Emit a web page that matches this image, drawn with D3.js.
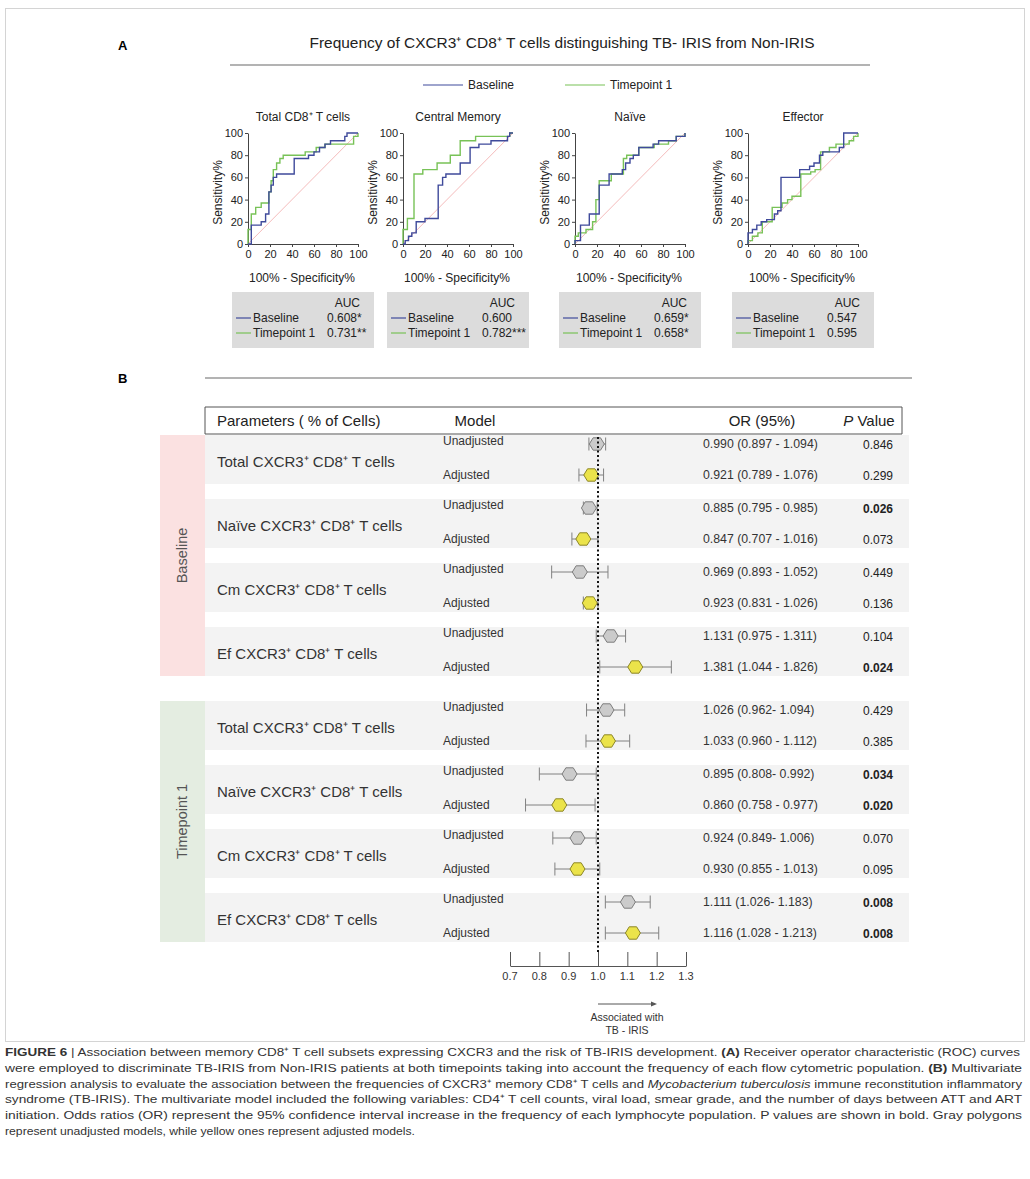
<!DOCTYPE html>
<html>
<head>
<meta charset="utf-8">
<script src="https://cdn.jsdelivr.net/npm/d3@7"></script>
<style>
    body { margin: 0; background: #fff; }
    svg { display: block; font-family: 'Liberation Sans', Arial, sans-serif; }
</style>
</head>
<body>
<div id="chart"></div>
<script>
// Data - panel A (ROC curves, [100% - specificity, sensitivity])
const rocPanels = ['Total CD8⁺ T cells', 'Central Memory', 'Naïve', 'Effector'];
const rocTicks = [0, 20, 40, 60, 80, 100];
const baselineRoc = [
    [[0,0],[3,0],[3,17],[12,17],[12,20],[16,20],[16,27],[19,27],[19,47],[21,47],[21,53],[23,53],[23,60],[26,60],[26,63],[42,63],[42,77],[55,77],[55,80],[60,80],[60,83],[65,83],[65,87],[70,87],[70,90],[75,90],[75,93],[88,93],[88,97],[90,97],[90,100],[100,100]],
    [[0,0],[2,0],[2,3],[5,3],[5,7],[8,7],[8,10],[12,10],[12,20],[20,20],[20,23],[32,23],[32,53],[36,53],[36,60],[39,60],[39,63],[52,63],[52,73],[61,73],[61,87],[69,87],[69,90],[80,90],[80,93],[95,93],[95,97],[97,97],[97,100],[100,100]],
    [[0,0],[0,3],[5,3],[5,17],[13,17],[13,27],[22,27],[22,53],[31,53],[31,63],[43,63],[43,67],[46,67],[46,73],[50,73],[50,77],[53,77],[53,80],[58,80],[58,87],[71,87],[71,90],[76,90],[76,93],[92,93],[92,97],[100,97],[100,100]],
    [[0,0],[0,10],[4,10],[4,13],[8,13],[8,17],[12,17],[12,20],[17,20],[17,22],[24,22],[24,27],[27,27],[27,30],[30,30],[30,60],[47,60],[47,67],[56,67],[56,70],[60,70],[60,73],[65,73],[65,80],[68,80],[68,83],[83,83],[83,87],[87,87],[87,100],[100,100]]
];
const timepointRoc = [
    [[0,0],[0,13],[3,13],[3,27],[7,27],[7,33],[12,33],[12,37],[19,37],[19,47],[21,47],[21,57],[23,57],[23,67],[26,67],[26,73],[29,73],[29,77],[32,77],[32,80],[52,80],[52,83],[62,83],[62,87],[70,87],[70,90],[96,90],[96,97],[100,97],[100,100]],
    [[0,0],[0,13],[4,13],[4,23],[10,23],[10,63],[18,63],[18,67],[31,67],[31,73],[43,73],[43,80],[52,80],[52,93],[66,93],[66,97],[97,97],[97,100],[100,100]],
    [[0,0],[0,7],[3,7],[3,10],[10,10],[10,13],[16,13],[16,20],[19,20],[19,40],[22,40],[22,57],[33,57],[33,63],[44,63],[44,77],[47,77],[47,80],[58,80],[58,87],[72,87],[72,90],[85,90],[85,93],[92,93],[92,97],[100,97],[100,100]],
    [[0,0],[0,3],[4,3],[4,7],[9,7],[9,10],[13,10],[13,20],[22,20],[22,33],[31,33],[31,37],[36,37],[36,40],[40,40],[40,43],[48,43],[48,63],[57,63],[57,65],[61,65],[61,67],[66,67],[66,83],[74,83],[74,87],[80,87],[80,90],[92,90],[92,93],[96,93],[96,97],[100,97],[100,100]]
];
const aucBaseline = ['0.608*', '0.600', '0.659*', '0.547'];
const aucTimepoint = ['0.731**', '0.782***', '0.658*', '0.595'];

// Data - panel B (forest plot), rows ordered timepoint > parameter > model
const timepoints = ['Baseline', 'Timepoint 1'];
const parameters = ['Total CXCR3⁺ CD8⁺ T cells', 'Naïve CXCR3⁺ CD8⁺ T cells', 'Cm CXCR3⁺ CD8⁺ T cells', 'Ef CXCR3⁺ CD8⁺ T cells'];
const models = ['Unadjusted', 'Adjusted'];
const orLabels = [
    '0.990 (0.897 - 1.094)', '0.921 (0.789 - 1.076)', '0.885 (0.795 - 0.985)', '0.847 (0.707 - 1.016)',
    '0.969 (0.893 - 1.052)', '0.923 (0.831 - 1.026)', '1.131 (0.975 - 1.311)', '1.381 (1.044 - 1.826)',
    '1.026 (0.962- 1.094)', '1.033 (0.960 - 1.112)', '0.895 (0.808- 0.992)', '0.860 (0.758 - 0.977)',
    '0.924 (0.849- 1.006)', '0.930 (0.855 - 1.013)', '1.111 (1.026- 1.183)', '1.116 (1.028 - 1.213)'
];
const pValues = ['0.846', '0.299', '0.026', '0.073', '0.449', '0.136', '0.104', '0.024',
                 '0.429', '0.385', '0.034', '0.020', '0.070', '0.095', '0.008', '0.008'];
// positions of the polygons and whiskers as drawn on the axis
const orPoint = [0.996, 0.977, 0.969, 0.950, 0.938, 0.972, 1.043, 1.127,
                 1.029, 1.034, 0.903, 0.868, 0.930, 0.930, 1.102, 1.119];
const orLow = [0.969, 0.935, 0.950, 0.911, 0.842, 0.950, 0.994, 1.006,
               0.961, 0.959, 0.800, 0.753, 0.846, 0.853, 1.025, 1.025];
const orHigh = [1.026, 1.019, 0.997, 1.000, 1.034, 1.000, 1.094, 1.250,
                1.091, 1.108, 0.994, 0.990, 0.994, 1.006, 1.178, 1.207];
const orTicks = [0.7, 0.8, 0.9, 1.0, 1.1, 1.2, 1.3];

const captionLines = [
    [['FIGURE 6', 'b'], [' | Association between memory CD8⁺ T cell subsets expressing CXCR3 and the risk of TB-IRIS development. '], ['(A)', 'b'], [' Receiver operator characteristic (ROC) curves']],
    [['were employed to discriminate TB-IRIS from Non-IRIS patients at both timepoints taking into account the frequency of each flow cytometric population. '], ['(B)', 'b'], [' Multivariate']],
    [['regression analysis to evaluate the association between the frequencies of CXCR3⁺ memory CD8⁺ T cells and '], ['Mycobacterium tuberculosis', 'i'], [' immune reconstitution inflammatory']],
    [['syndrome (TB-IRIS). The multivariate model included the following variables: CD4⁺ T cell counts, viral load, smear grade, and the number of days between ATT and ART']],
    [['initiation. Odds ratios (OR) represent the 95% confidence interval increase in the frequency of each lymphocyte population. P values are shown in bold. Gray polygons']],
    [['represent unadjusted models, while yellow ones represent adjusted models.']]
];
const captionWidths = [1015, 1017, 1017, 1017, 1017, 410];

const blue = '#3f4a9b';
const green = '#78c257';

function draw() {
    // Dimensions
    let dimensions = {
        width: 1030,
        height: 1179,
    };

    const svg = d3.select('#chart')
        .append('svg')
        .attr('width', dimensions.width)
        .attr('height', dimensions.height);

    svg.append('rect')
        .attr('width', dimensions.width)
        .attr('height', dimensions.height)
        .attr('fill', '#fff');

    // figure frame
    svg.append('rect')
        .attr('x', 5.5).attr('y', 8.5)
        .attr('width', 1019).attr('height', 1033)
        .attr('fill', 'none')
        .attr('stroke', '#d4d4d4');

    // ---------- Panel A ----------
    svg.append('text').attr('x', 118).attr('y', 50)
        .style('font-weight', 'bold').style('font-size', '13px').text('A');

    svg.append('text').attr('x', 562).attr('y', 48)
        .attr('text-anchor', 'middle')
        .attr('textLength', 505).attr('lengthAdjust', 'spacingAndGlyphs')
        .style('font-size', '15px').attr('fill', '#222')
        .text('Frequency of CXCR3⁺ CD8⁺ T cells distinguishing TB- IRIS from Non-IRIS');

    svg.append('line')
        .attr('x1', 230).attr('x2', 870).attr('y1', 65).attr('y2', 65)
        .attr('stroke', '#9a9a9a').attr('stroke-width', 1.5);

    // legend
    const legend = svg.append('g').style('font-size', '12px');
    [[423, blue, 'Baseline'], [565, green, 'Timepoint 1']].forEach(([lx, c, t]) => {
        legend.append('line').attr('x1', lx).attr('x2', lx + 40)
            .attr('y1', 85).attr('y2', 85).attr('stroke', c).attr('stroke-width', 1.2);
        legend.append('text').attr('x', lx + 45).attr('y', 89).attr('fill', '#222').text(t);
    });

    const plot = { top: 133, width: 110, height: 111, lefts: [248, 403, 575, 748] };

    const xRoc = d3.scaleLinear().domain([0, 100]).range([0, plot.width]);
    const yRoc = d3.scaleLinear().domain([0, 100]).range([plot.height, 0]);
    const rocLine = d3.line().x(d => xRoc(d[0])).y(d => yRoc(d[1]));

    rocPanels.forEach((name, i) => {
        const g = svg.append('g')
            .attr('transform', `translate(${plot.lefts[i]}, ${plot.top})`);

        g.append('text').attr('x', plot.width / 2).attr('y', -12)
            .attr('text-anchor', 'middle').style('font-size', '12px').attr('fill', '#222')
            .text(name);

        const yAxis = g.append('g')
            .call(d3.axisLeft(yRoc).tickValues(rocTicks).tickSize(3).tickSizeOuter(0).tickPadding(2));
        const xAxis = g.append('g')
            .attr('transform', `translate(0, ${plot.height})`)
            .call(d3.axisBottom(xRoc).tickValues(rocTicks).tickSize(3).tickSizeOuter(0).tickPadding(3));
        [xAxis, yAxis].forEach(a => {
            a.selectAll('path, line').attr('stroke', '#444');
            a.selectAll('text').style('font-size', '11px').attr('fill', '#222')
                .style('font-family', "'Liberation Sans', Arial, sans-serif");
        });

        g.append('text')
            .attr('transform', `translate(-26, ${plot.height / 2 + 4}) rotate(-90)`)
            .attr('text-anchor', 'middle').style('font-size', '12px').attr('fill', '#222')
            .text('Sensitivity%');
        g.append('text').attr('x', plot.width / 2 - 1).attr('y', plot.height + 38)
            .attr('text-anchor', 'middle').style('font-size', '12px').attr('fill', '#222')
            .text('100% - Specificity%');

        // chance line
        g.append('path').attr('d', rocLine([[0, 0], [100, 100]]))
            .attr('fill', 'none').attr('stroke', '#f1a9a9').attr('stroke-width', 0.8);

        g.append('path').attr('d', rocLine(timepointRoc[i]))
            .attr('fill', 'none').attr('stroke', green).attr('stroke-width', 1.4);
        g.append('path').attr('d', rocLine(baselineRoc[i]))
            .attr('fill', 'none').attr('stroke', blue).attr('stroke-width', 1.4);

        // AUC box
        const bx = plot.lefts[i] + plot.width / 2 - 71;
        const box = svg.append('g').attr('transform', `translate(${bx}, 292)`)
            .style('font-size', '12px').attr('fill', '#222');
        box.append('rect').attr('width', 142).attr('height', 56).attr('fill', '#dcdcdc');
        box.append('text').attr('x', 128).attr('y', 15).attr('text-anchor', 'end').text('AUC');
        [[blue, 'Baseline', aucBaseline[i], 30], [green, 'Timepoint 1', aucTimepoint[i], 45]].forEach(([c, t, v, yy]) => {
            box.append('line').attr('x1', 4).attr('x2', 19).attr('y1', yy - 4).attr('y2', yy - 4)
                .attr('stroke', c).attr('stroke-width', 1.2);
            box.append('text').attr('x', 21).attr('y', yy).text(t);
            box.append('text').attr('x', 95).attr('y', yy).text(v);
        });
    });

    // ---------- Panel B ----------
    svg.append('text').attr('x', 118).attr('y', 383)
        .style('font-weight', 'bold').style('font-size', '13px').text('B');
    svg.append('line')
        .attr('x1', 205).attr('x2', 912).attr('y1', 378).attr('y2', 378)
        .attr('stroke', '#9a9a9a').attr('stroke-width', 1.5);

    const table = { left: 205, right: 909, groupTops: [435, 701], step: 64, bandH: 49 };

    const xOr = d3.scaleLinear().domain([0.7, 1.3]).range([510, 686]);

    // header
    svg.append('path')
        .attr('d', `M${table.left},407 V434 H902 V407 H${table.left}`)
        .attr('fill', '#fff').attr('stroke', '#555').attr('stroke-width', 1);
    const header = svg.append('g').style('font-size', '15px').attr('fill', '#222');
    header.append('text').attr('x', 217).attr('y', 426).text('Parameters ( % of Cells)');
    header.append('text').attr('x', 475).attr('y', 426).attr('text-anchor', 'middle').text('Model');
    header.append('text').attr('x', 762).attr('y', 426).attr('text-anchor', 'middle').text('OR (95%)');
    const pHead = header.append('text').attr('x', 869).attr('y', 426).attr('text-anchor', 'middle');
    pHead.append('tspan').style('font-style', 'italic').text('P');
    pHead.append('tspan').text(' Value');

    const groupFill = ['#fbe1e1', '#e4ede1'];

    timepoints.forEach((tp, gi) => {
        const top = table.groupTops[gi];
        const groupH = table.step * 3 + table.bandH;
        svg.append('rect').attr('x', 160).attr('y', top)
            .attr('width', table.left - 160).attr('height', groupH).attr('fill', groupFill[gi]);
        svg.append('text')
            .attr('transform', `translate(187, ${top + groupH / 2}) rotate(-90)`)
            .attr('text-anchor', 'middle').style('font-size', '14.5px').attr('fill', '#555')
            .text(tp);

        parameters.forEach((param, pi) => {
            const bandTop = top + pi * table.step;
            svg.append('rect').attr('x', table.left).attr('y', bandTop)
                .attr('width', table.right - table.left).attr('height', table.bandH)
                .attr('fill', '#f3f3f3');
            svg.append('text').attr('x', 217).attr('y', bandTop + 32)
                .style('font-size', '15px').attr('fill', '#333').text(param);
        });
    });

    // rows
    const rows = [];
    timepoints.forEach((tp, gi) => parameters.forEach((param, pi) => models.forEach((m, mi) => {
        const idx = rows.length;
        rows.push({
            model: m, adjusted: mi === 1,
            y: table.groupTops[gi] + pi * table.step + (mi === 0 ? 9 : 40),
            point: orPoint[idx], low: orLow[idx], high: orHigh[idx],
            or: orLabels[idx], p: pValues[idx]
        });
    })));

    const rowGroup = svg.selectAll('g.row')
        .data(rows)
        .join('g')
        .attr('class', 'row')
        .attr('transform', d => `translate(0, ${d.y})`);

    rowGroup.append('text').attr('x', 443).attr('y', d => d.adjusted ? 4 : 1)
        .style('font-size', '12px').attr('fill', '#333').text(d => d.model);
    rowGroup.append('text').attr('x', 703).attr('y', 4)
        .style('font-size', '12.3px').attr('fill', '#333').text(d => d.or);
    rowGroup.append('text').attr('x', 878).attr('y', 5).attr('text-anchor', 'middle')
        .style('font-size', '12px').attr('fill', '#222')
        .style('font-weight', d => +d.p < 0.05 ? 'bold' : 'normal')
        .text(d => d.p);

    // reference line at OR = 1
    svg.append('line')
        .attr('x1', xOr(1)).attr('x2', xOr(1)).attr('y1', 437).attr('y2', 952)
        .attr('stroke', '#111').attr('stroke-width', 2).attr('stroke-dasharray', '2,2.5');

    // whiskers and polygons
    rowGroup.append('line')
        .attr('x1', d => xOr(d.low)).attr('x2', d => xOr(d.high))
        .attr('stroke', '#808080').attr('stroke-width', 1);
    rowGroup.selectAll('line.cap')
        .data(d => [d.low, d.high])
        .join('line').attr('class', 'cap')
        .attr('x1', d => xOr(d)).attr('x2', d => xOr(d))
        .attr('y1', -6.5).attr('y2', 6.5)
        .attr('stroke', '#808080').attr('stroke-width', 1);
    const hex = [[-7.5, 0], [-3.7, -6.2], [3.7, -6.2], [7.5, 0], [3.7, 6.2], [-3.7, 6.2]];
    rowGroup.append('polygon')
        .attr('points', d => hex.map(p => [xOr(d.point) + p[0], p[1]].join(',')).join(' '))
        .attr('fill', d => d.adjusted ? '#ebe34a' : '#cbcbcb')
        .attr('stroke', d => d.adjusted ? '#8c8627' : '#7d7d7d')
        .attr('stroke-width', 1);

    // OR axis
    const orAxis = svg.append('g')
        .attr('transform', 'translate(0, 966)')
        .call(d3.axisTop(xOr).tickValues(orTicks).tickSize(14).tickSizeOuter(0).tickFormat(''));
    orAxis.selectAll('path, line').attr('stroke', '#555');
    svg.append('g').selectAll('text')
        .data(orTicks)
        .join('text')
        .attr('x', d => xOr(d)).attr('y', 980)
        .attr('text-anchor', 'middle').style('font-size', '11px').attr('fill', '#333')
        .text(d3.format('.1f'));

    // direction arrow
    svg.append('line').attr('x1', xOr(1)).attr('x2', 653).attr('y1', 1004).attr('y2', 1004)
        .attr('stroke', '#555').attr('stroke-width', 1);
    svg.append('path').attr('d', 'M657,1004 L651,1001.5 L651,1006.5 Z').attr('fill', '#555');
    svg.append('text').attr('x', 627).attr('y', 1021).attr('text-anchor', 'middle')
        .style('font-size', '10.5px').attr('fill', '#333').text('Associated with');
    svg.append('text').attr('x', 627).attr('y', 1034).attr('text-anchor', 'middle')
        .style('font-size', '10.5px').attr('fill', '#333').text('TB - IRIS');

    // ---------- Caption ----------
    captionLines.forEach((parts, li) => {
        const t = svg.append('text')
            .attr('x', 5).attr('y', 1056 + li * 15.8)
            .attr('textLength', captionWidths[li]).attr('lengthAdjust', 'spacingAndGlyphs')
            .style('font-size', '11.5px').attr('fill', '#333');
        parts.forEach(([s, st]) => {
            t.append('tspan')
                .style('font-weight', st === 'b' ? 'bold' : 'normal')
                .style('font-style', st === 'i' ? 'italic' : 'normal')
                .text(s);
        });
    });
}

draw();
</script>
</body>
</html>
